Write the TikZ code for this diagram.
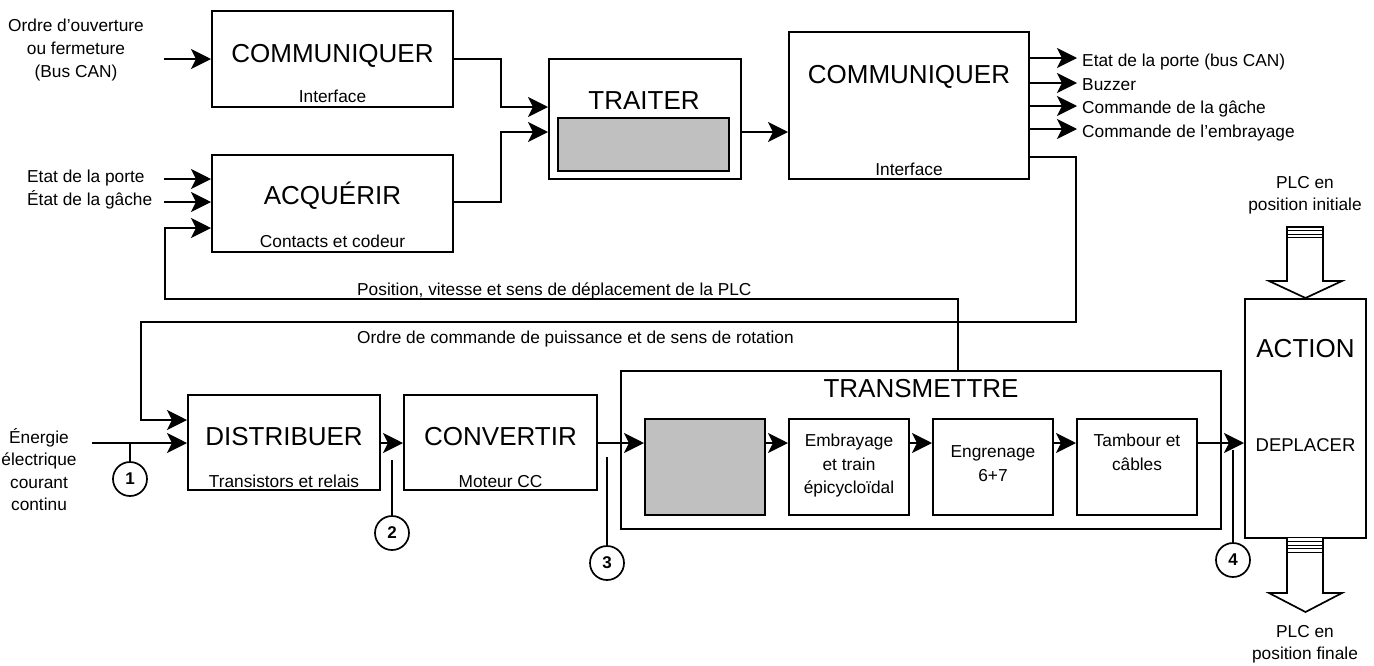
\documentclass[tikz,border=0pt]{standalone}
\usepackage{fontspec}
\setmainfont{Liberation Sans}
\usetikzlibrary{arrows.meta,calc}
\definecolor{boxgray}{HTML}{C0C0C0}
\begin{document}
\begin{tikzpicture}[x=1pt,y=-1pt,
  box/.style={draw,line width=2pt,inner sep=0pt},
  gbox/.style={box,fill=boxgray},
  ln/.style={line width=1.7pt},
  arr/.style={ln,-{Stealth[length=20pt,width=20pt,inset=5pt]}},
  big/.style={font=\fontsize{26}{30}\selectfont,inner sep=0pt,anchor=base},
  sm/.style={font=\fontsize{17.3}{21}\selectfont,inner sep=0pt,anchor=base},
  mid/.style={font=\fontsize{18.5}{22}\selectfont,inner sep=0pt,anchor=base},
  lft/.style={sm,anchor=base west},
  num/.style={circle,draw,line width=1.7pt,minimum size=34pt,inner sep=0pt,font=\fontsize{17}{20}\selectfont\bfseries},
  blk/.style={line width=1.7pt,fill=white,line join=miter},
  stripe/.style={line width=1pt}
]
\useasboundingbox[fill=white] (0,0) rectangle (1374,665);

% ---------- boxes ----------
\node[box,minimum width=241pt,minimum height=96pt] (comm1) at (332.5,59) {};
\node[box,minimum width=241pt,minimum height=97pt] (acq) at (332.5,203.5) {};
\node[box,minimum width=192pt,minimum height=120pt] (traiter) at (645,119) {};
\node[gbox,minimum width=171pt,minimum height=53pt] (g1) at (643.5,144.5) {};
\node[box,minimum width=240pt,minimum height=147pt] (comm2) at (909,105.5) {};
\node[box,minimum width=192pt,minimum height=95pt] (dist) at (284,442.5) {};
\node[box,minimum width=193pt,minimum height=95pt] (conv) at (500.5,442.5) {};
\node[box,minimum width=600pt,minimum height=158pt] (trans) at (921,450) {};
\node[gbox,minimum width=120pt,minimum height=96pt] (g2) at (705,467) {};
\node[box,minimum width=120pt,minimum height=96pt] (emb) at (849,467) {};
\node[box,minimum width=120pt,minimum height=96pt] (eng) at (993,467) {};
\node[box,minimum width=120pt,minimum height=96pt] (tamb) at (1137,467) {};
\node[box,minimum width=121pt,minimum height=239pt] (action) at (1305.5,418.5) {};

% ---------- box texts ----------
\node[big] (tcomm1) at (332.5,62) {COMMUNIQUER};
\node[sm] (scomm1) at (332.5,102) {Interface};
\node[big] (tacq) at (332.5,204) {ACQUÉRIR};
\node[sm] (sacq) at (332.5,247) {Contacts et codeur};
\node[big] (ttraiter) at (644,109) {TRAITER};
\node[big] (tcomm2) at (909,83) {COMMUNIQUER};
\node[sm] (scomm2) at (909,175) {Interface};
\node[big] (tdist) at (284,445) {DISTRIBUER};
\node[sm] (sdist) at (284,487) {Transistors et relais};
\node[big] (tconv) at (500.5,445) {CONVERTIR};
\node[sm] (sconv) at (500.5,487) {Moteur CC};
\node[big] (ttrans) at (921,397) {TRANSMETTRE};
\node[sm] (emb1) at (849,446) {Embrayage};
\node[sm] (emb2) at (849,470) {et train};
\node[sm] (emb3) at (849,493) {épicycloïdal};
\node[sm] (eng1) at (993,457) {Engrenage};
\node[sm] (eng2) at (993,481) {6+7};
\node[sm] (tamb1) at (1137,446) {Tambour et};
\node[sm] (tamb2) at (1137,470) {câbles};
\node[big] (taction) at (1305.5,357) {ACTION};
\node[mid] (saction) at (1305.5,451) {DEPLACER};

% ---------- side texts ----------
\node[sm] (ord1) at (76,31) {Ordre d’ouverture};
\node[sm] (ord2) at (76,54) {ou fermeture};
\node[sm] (ord3) at (76,77) {(Bus CAN)};
\node[lft] (etp) at (27,182) {Etat de la porte};
\node[lft] (etg) at (27,205) {État de la gâche};
\node[sm] (en1) at (39,443) {Énergie};
\node[sm] (en2) at (39,465.5) {électrique};
\node[sm] (en3) at (39,488) {courant};
\node[sm] (en4) at (39,510.5) {continu};
\node[lft] (pos) at (357,295) {Position, vitesse et sens de déplacement de la PLC};
\node[lft] (ordc) at (357,343) {Ordre de commande de puissance et de sens de rotation};
\node[lft] (out1) at (1082,66) {Etat de la porte (bus CAN)};
\node[lft] (out2) at (1082,90) {Buzzer};
\node[lft] (out3) at (1082,113) {Commande de la gâche};
\node[lft] (out4) at (1082,137) {Commande de l’embrayage};
\node[sm] (plci1) at (1305,188) {PLC en};
\node[sm] (plci2) at (1305,210) {position initiale};
\node[sm] (plcf1) at (1305,637) {PLC en};
\node[sm] (plcf2) at (1305,659) {position finale};

% ---------- coordinates ----------
\coordinate (in1) at (164,59);
\coordinate (in2) at (164,179);
\coordinate (in3) at (164,202);
\coordinate (in4) at (165,228);
\coordinate (fbr) at (958,299);
\coordinate (fbl) at (165,299);
\coordinate (j1) at (501,107);
\coordinate (j2) at (501,132);
\coordinate (o1) at (1077,58);
\coordinate (o2) at (1077,83);
\coordinate (o3) at (1077,106);
\coordinate (o4) at (1077,129);
\coordinate (c1) at (1076,157);
\coordinate (c2) at (141,322);
\coordinate (d1) at (141,420);
\coordinate (e0) at (92,443);

% ---------- connectors ----------
\draw[arr] (in1) -- (comm1.west |- in1);
\draw[arr] (in2) -- (acq.west |- in2);
\draw[arr] (in3) -- (acq.west |- in3);
\draw[arr] (trans.north -| fbr) -- (fbr) -- (fbl) -- (in4) -- (acq.west |- in4);
\draw[arr] (comm1.east) -| (j1) -- (traiter.west |- j1);
\draw[arr] (acq.east |- in3) -| (j2) -- (traiter.west |- j2);
\draw[arr] (traiter.east |- j2) -- (comm2.west |- j2);
\draw[arr] (comm2.east |- o1) -- (o1);
\draw[arr] (comm2.east |- o2) -- (o2);
\draw[arr] (comm2.east |- o3) -- (o3);
\draw[arr] (comm2.east |- o4) -- (o4);
\draw[arr] (comm2.east |- c1) -- (c1) -- (c1 |- c2) -- (c2) -- (d1) -- (dist.west |- d1);
\draw[arr] (e0) -- (dist.west |- e0);
\draw[arr] (dist.east |- e0) -- (conv.west |- e0);
\draw[arr] (conv.east |- e0) -- (g2.west |- e0);
\draw[arr] (g2.east |- e0) -- (emb.west |- e0);
\draw[arr] (emb.east |- e0) -- (eng.west |- e0);
\draw[arr] (eng.east |- e0) -- (tamb.west |- e0);
\draw[arr] (tamb.east |- e0) -- (action.west |- e0);

% ---------- numbered circles ----------
\node[num] (n1) at (130,479) {1};
\node[num] (n2) at (392,533) {2};
\node[num] (n3) at (607,563) {3};
\node[num] (n4) at (1233,560) {4};
\coordinate (t2) at (392,460);
\coordinate (t3) at (607,457);
\coordinate (t4) at (1233,450);
\draw[ln] (n1.north) -- (n1 |- e0);
\draw[ln] (n2.north) -- (t2);
\draw[ln] (n3.north) -- (t3);
\draw[ln] (n4.north) -- (t4);

% ---------- block arrows ----------
\draw[blk] (1287,227) -- (1287,281) -- (1269,281) -- (1305.5,298) -- (1342,281) -- (1323,281) -- (1323,227) -- cycle;
\draw[stripe] (1287,230.5) -- (1323,230.5);
\draw[stripe] (1287,234) -- (1323,234);
\draw[stripe] (1287,237.5) -- (1323,237.5);
\draw[blk] (1287,538) -- (1287,593) -- (1269,593) -- (1305.5,612) -- (1342,593) -- (1323,593) -- (1323,538);
\draw[stripe] (1287,541.5) -- (1323,541.5);
\draw[stripe] (1287,545) -- (1323,545);
\draw[stripe] (1287,548.5) -- (1323,548.5);
\draw[stripe] (1287,552) -- (1323,552);
\end{tikzpicture}
\end{document}
